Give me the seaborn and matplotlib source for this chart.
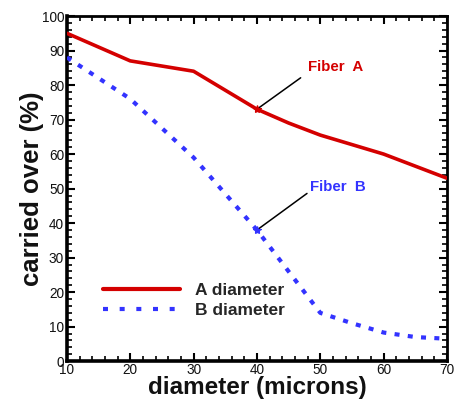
import matplotlib
matplotlib.use("Agg")
import matplotlib.pyplot as plt
from matplotlib.ticker import MultipleLocator
from matplotlib.lines import Line2D
import seaborn as sns
import pandas as pd

# Fraction carried over vs. fiber diameter
diam_a = [10, 20, 30, 40, 45, 50, 60, 70]
carried_a = [95, 87, 84, 73, 69, 65.5, 60, 53]

diam_b = [10, 20, 30, 40, 45, 50, 55, 60, 65, 70]
carried_b = [88, 76, 59, 38, 26, 14, 11, 8.3, 7, 6.5]

x_ticks = [10, 20, 30, 40, 50, 60, 70]
y_ticks = [0, 10, 20, 30, 40, 50, 60, 70, 80, 90, 100]

sns.set_theme(style="ticks")
plt.rcParams["font.family"] = ["Liberation Sans", "DejaVu Sans"]

red = "#d40000"
blue = "#3333ff"

fig = plt.figure(figsize=(4.58, 4.0), dpi=100)
ax = fig.add_axes([0.146, 0.097, 0.83, 0.863])

df_a = pd.DataFrame({"diameter": diam_a, "carried": carried_a})
df_b = pd.DataFrame({"diameter": diam_b, "carried": carried_b})

sns.lineplot(data=df_a, x="diameter", y="carried", ax=ax, color=red,
             lw=2.6, zorder=3)
sns.lineplot(data=df_b, x="diameter", y="carried", ax=ax, color=blue,
             lw=3.0, linestyle=(0, (1.2, 2.0)), zorder=3)

# star markers at the annotated points
ax.plot([40], [73], marker="*", ms=6, color=red, mew=0.8, zorder=4)
ax.plot([40], [38], marker="*", ms=6, color=blue, mew=0.8, zorder=4)

# leader lines and labels for the two fibers
ax.annotate("", xy=(40, 73), xytext=(46.9, 82.1),
            arrowprops=dict(arrowstyle="-", color="black", lw=1.1,
                            shrinkA=0, shrinkB=0))
ax.text(52.4, 85.3, "Fiber  A", color=red, fontsize=10.8, fontweight="bold",
        ha="center", va="center")
ax.annotate("", xy=(40, 38), xytext=(47.9, 48.6),
            arrowprops=dict(arrowstyle="-", color="black", lw=1.1,
                            shrinkA=0, shrinkB=0))
ax.text(52.7, 50.6, "Fiber  B", color=blue, fontsize=10.8, fontweight="bold",
        ha="center", va="center")

ax.set_xlim(10, 70)
ax.set_ylim(0, 100)
ax.set_xticks(x_ticks)
ax.set_yticks(y_ticks)
ax.xaxis.set_minor_locator(MultipleLocator(2))
ax.yaxis.set_minor_locator(MultipleLocator(2))
ax.tick_params(which="major", direction="in", length=6, width=1.5,
               top=True, right=True, labelsize=9.8, labelcolor="#111111",
               pad=2, color="black")
ax.tick_params(axis="x", which="major", pad=1.5)
ax.tick_params(which="minor", direction="in", length=3.5, width=1.2,
               top=True, right=True, color="black")

for side in ["top", "right"]:
    ax.spines[side].set_linewidth(2.0)
for side in ["bottom", "left"]:
    ax.spines[side].set_linewidth(2.6)
for s in ax.spines.values():
    s.set_color("black")
    s.set_visible(True)

ax.set_xlabel("diameter (microns)", fontsize=17.5, fontweight="bold",
              labelpad=-1.0, color="#111111")
ax.set_ylabel("carried over (%)", fontsize=18.5, fontweight="bold",
              labelpad=-2, color="#111111")

handles = [
    Line2D([], [], color=red, lw=3.0),
    Line2D([], [], color=blue, lw=3.0, linestyle=(0, (1.2, 2.8))),
]
ax.legend(handles, ["A diameter", "B diameter"], loc="lower left",
          bbox_to_anchor=(0.055, 0.08), frameon=False,
          handlelength=4.4, handletextpad=0.85, labelspacing=0.25,
          prop={"weight": "bold", "size": 12.5})

fig.savefig("out.png", dpi=100)
